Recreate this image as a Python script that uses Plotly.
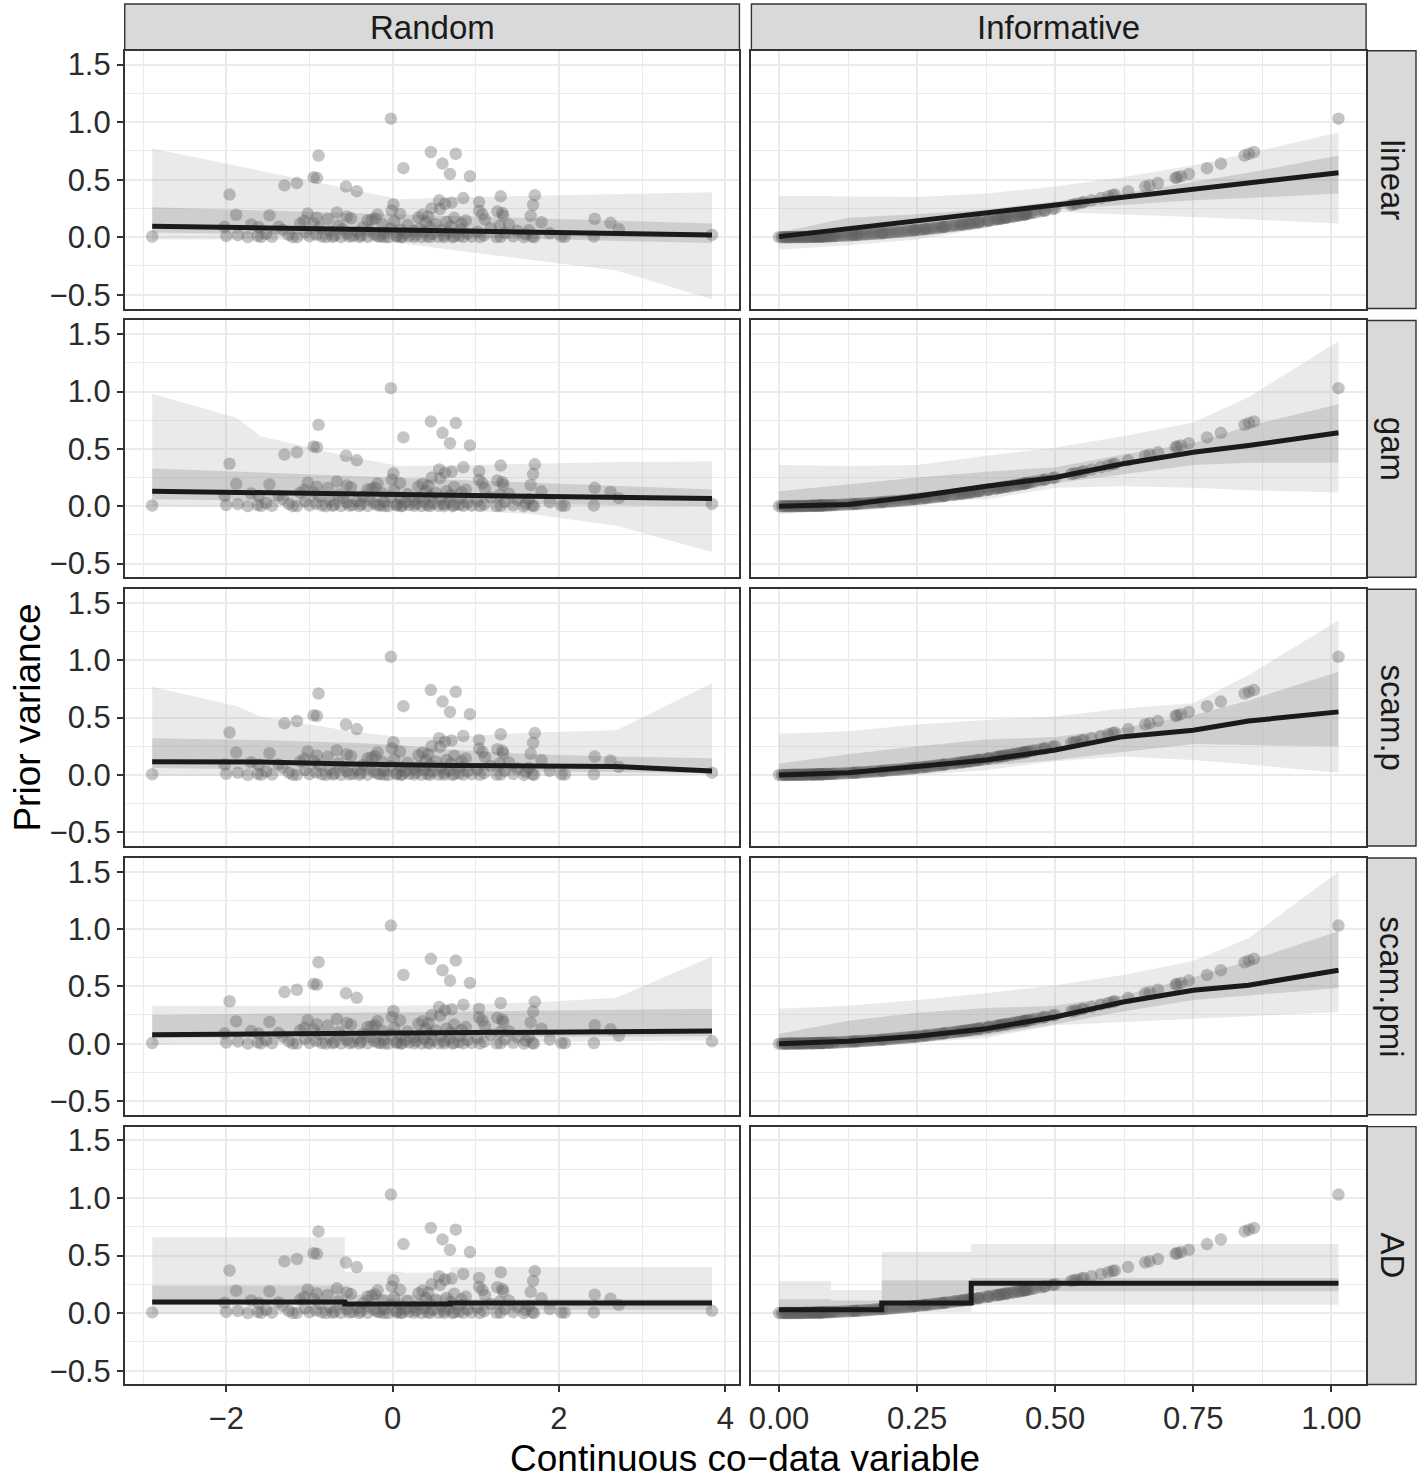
import plotly.graph_objects as go

W, H = 1417, 1484

# ---- data ---------------------------------------------------------------
# prior variance of each feature and its two co-data values
prior_var = [
    1.03, 0.74, 0.725, 0.71, 0.64, 0.60, 0.55, 0.53, 0.52, 0.515,
    0.47, 0.45, 0.44, 0.40, 0.37, 0.365, 0.355, 0.34, 0.32, 0.30,
    0.29, 0.305, 0.285, 0.28, 0.25, 0.245, 0.23, 0.225, 0.21, 0.20,
    0.195, 0.19, 0.205, 0.17, 0.215, 0.18, 0.165, 0.185, 0.16, 0.125,
    0.07, 0.02, 0.155, 0.188, 0.13, 0.158, 0.198, 0.162, 0.145, 0.232,
    0.202, 0.172, 0.196, 0.178, 0.132, 0.168, 0.12, 0.10, 0.06, 0.035,
    0.005, 0.004, 0.006, 0.01, 0.018, 0.11, 0.09, 0.088, 0.092, 0.118,
    0.142, 0.006,
    0.0, 0.0001, 0.0004, 0.0009, 0.0016, 0.002, 0.0025, 0.003, 0.0036, 0.0042,
    0.0049, 0.0056, 0.0064, 0.0072, 0.0081, 0.009, 0.01, 0.011, 0.0121, 0.0132,
    0.0144, 0.0156, 0.0169, 0.0182, 0.0196, 0.021, 0.0225, 0.024, 0.0256, 0.0272,
    0.0289, 0.0306, 0.0324, 0.0342, 0.0361, 0.038, 0.04, 0.042, 0.0441, 0.0462,
    0.0484, 0.0506, 0.0529, 0.0552, 0.0576, 0.06, 0.0625, 0.065, 0.0676, 0.0702,
    0.0729, 0.0756, 0.0784, 0.0812, 0.0841, 0.087, 0.0961, 0.1024, 0.1056, 0.1089,
    0.1122, 0.1156, 0.1225, 0.1296, 0.1369, 0.1444, 0.1521,
    0.00003, 0.00006, 0.00014, 0.0002, 0.0003, 0.0005, 0.0006, 0.0008, 0.001, 0.0012,
    0.0014, 0.0018, 0.0023, 0.0027, 0.0034, 0.0038, 0.0046, 0.0052, 0.0061, 0.0067,
    0.0077, 0.0085,
]

codata_random = [
    -0.02, 0.46, 0.76, -0.89, 0.60, 0.13, 0.69, 0.93, -0.95, -0.91,
    -1.15, -1.30, -0.56, -0.43, -1.96, 1.71, 1.30, 0.85, 0.56, 0.71,
    0.63, 1.04, 0.01, 1.69, 0.47, 0.57, 1.04, 1.26, 1.32, 1.08,
    -1.88, -1.48, -1.02, -0.91, -0.67, -0.55, -0.50, 1.66, 2.43, 2.62,
    2.72, 3.84, 1.11, 1.33, 1.79, -0.78, -0.18, -0.21, -0.30, -0.01,
    0.09, 0.31, 0.36, 0.43, 0.65, 0.74, 0.83, 1.29, 1.64, 1.89,
    2.03, 2.07, 2.42, -2.00, -1.86, -1.70, -2.02, -1.61, -1.37, -1.11,
    -1.06, -2.89,
    -0.05, 0.72, -1.15, 0.35, -0.62, 1.25, -0.30, 0.55, -1.45, 0.12,
    0.95, -0.85, -0.15, 0.42, 1.45, -0.48, 0.20, -1.62, 0.80, -0.70,
    0.05, 1.10, -0.38, 0.62, -1.25, 0.28, -0.92, 1.60, -0.22, 0.48,
    -1.52, 0.90, -0.55, 0.15, 1.35, -0.10, 0.68, -1.05, 0.38, -0.42,
    1.02, -0.75, 0.25, 1.50, -0.28, 0.58, -1.32, 0.10, 0.82, -0.60,
    0.32, -0.02, 1.18, -0.88, 0.45, -0.35, 0.70, -0.65, 0.18, 1.40,
    -0.12, 0.52, -0.95, 0.40, 0.02, 0.88, -0.25,
    -1.74, 1.58, -0.80, 0.10, 1.70, -1.20, 0.62, -0.40, 1.05, -0.10,
    0.45, -1.58, 0.85, -0.72, 0.26, 1.30, -0.52, 0.05, 1.68, -1.00,
    0.74, -0.18,
]

codata_informative = [
    1.013, 0.860, 0.851, 0.843, 0.800, 0.775, 0.742, 0.728, 0.721, 0.718,
    0.686, 0.671, 0.663, 0.632, 0.608, 0.604, 0.596, 0.583, 0.566, 0.548,
    0.539, 0.552, 0.534, 0.529, 0.500, 0.495, 0.480, 0.474, 0.458, 0.447,
    0.442, 0.436, 0.453, 0.412, 0.464, 0.424, 0.406, 0.430, 0.400, 0.354,
    0.265, 0.141, 0.394, 0.434, 0.361, 0.397, 0.445, 0.402, 0.381, 0.482,
    0.449, 0.415, 0.443, 0.422, 0.363, 0.410, 0.346, 0.316, 0.245, 0.187,
    0.071, 0.063, 0.077, 0.100, 0.134, 0.332, 0.300, 0.297, 0.303, 0.344,
    0.377, 0.077,
    0.00, 0.01, 0.02, 0.03, 0.04, 0.045, 0.05, 0.055, 0.06, 0.065,
    0.07, 0.075, 0.08, 0.085, 0.09, 0.095, 0.10, 0.105, 0.11, 0.115,
    0.12, 0.125, 0.13, 0.135, 0.14, 0.145, 0.15, 0.155, 0.16, 0.165,
    0.17, 0.175, 0.18, 0.185, 0.19, 0.195, 0.20, 0.205, 0.21, 0.215,
    0.22, 0.225, 0.23, 0.235, 0.24, 0.245, 0.25, 0.255, 0.26, 0.265,
    0.27, 0.275, 0.28, 0.285, 0.29, 0.295, 0.31, 0.32, 0.325, 0.33,
    0.335, 0.34, 0.35, 0.36, 0.37, 0.38, 0.39,
    0.005, 0.008, 0.012, 0.015, 0.018, 0.022, 0.025, 0.028, 0.032, 0.035,
    0.038, 0.042, 0.048, 0.052, 0.058, 0.062, 0.068, 0.072, 0.078, 0.082,
    0.088, 0.092,
]

assert len(prior_var) == len(codata_random) == len(codata_informative)

methods = ["linear", "gam", "scam.p", "scam.pmi", "AD"]
designs = ["Random", "Informative"]

# positions where the fitted curves and bands were read
knots_random = [-2.89, -1.87, -1.59, -0.5, 0.08, 0.7, 1.69, 2.69, 3.84]
knots_informative = [0, 0.126, 0.25, 0.375, 0.5, 0.623, 0.75, 0.85, 1.013]
knots_ad_random = [-2.89, -0.574, 0.12, 0.693, 3.84]
knots_ad_informative = [0, 0.094, 0.186, 0.348, 1.013]

# Random co-data: fit, inner band, outer band
linear_rnd_fit = [0.096, 0.084, 0.081, 0.069, 0.062, 0.055, 0.044, 0.033, 0.02]
linear_rnd_in_lo = [0.04, 0.03, 0.03, 0.02, 0.01, 0.0, -0.015, -0.03, -0.05]
linear_rnd_in_hi = [0.26, 0.239, 0.233, 0.21, 0.198, 0.185, 0.165, 0.144, 0.12]
linear_rnd_out_lo = [-0.02, -0.02, -0.02, -0.03, -0.05, -0.11, -0.20, -0.29, -0.54]
linear_rnd_out_hi = [0.77, 0.619, 0.578, 0.416, 0.33, 0.345, 0.36, 0.375, 0.39]

gam_rnd_fit = [0.13, 0.12, 0.118, 0.108, 0.102, 0.096, 0.087, 0.078, 0.067]
gam_rnd_in_lo = [0.06, 0.05, 0.05, 0.04, 0.035, 0.03, 0.02, 0.01, 0.0]
gam_rnd_in_hi = [0.33, 0.302, 0.294, 0.264, 0.248, 0.231, 0.204, 0.176, 0.145]
gam_rnd_out_lo = [0.0, 0.0, 0.0, -0.005, -0.01, -0.03, -0.07, -0.17, -0.40]
gam_rnd_out_hi = [0.98, 0.77, 0.61, 0.43, 0.35, 0.36, 0.37, 0.385, 0.39]

scamp_rnd_fit = [0.116, 0.115, 0.113, 0.095, 0.087, 0.082, 0.078, 0.073, 0.035]
scamp_rnd_in_lo = [0.06, 0.05, 0.05, 0.045, 0.04, 0.035, 0.03, 0.025, 0.015]
scamp_rnd_in_hi = [0.32, 0.31, 0.305, 0.28, 0.26, 0.22, 0.18, 0.16, 0.145]
scamp_rnd_out_lo = [-0.01, -0.01, -0.01, -0.01, -0.01, -0.01, -0.01, -0.01, 0.0]
scamp_rnd_out_hi = [0.77, 0.60, 0.51, 0.38, 0.33, 0.33, 0.37, 0.39, 0.80]

scampmi_rnd_fit = [0.078, 0.083, 0.084, 0.089, 0.092, 0.095, 0.10, 0.105, 0.11]
scampmi_rnd_in_lo = [0.05, 0.052, 0.053, 0.055, 0.057, 0.058, 0.06, 0.062, 0.064]
scampmi_rnd_in_hi = [0.25, 0.258, 0.26, 0.27, 0.275, 0.28, 0.29, 0.298, 0.305]
scampmi_rnd_out_lo = [-0.01, -0.005, -0.005, 0.0, 0.005, 0.01, 0.015, 0.02, 0.03]
scampmi_rnd_out_hi = [0.33, 0.33, 0.33, 0.33, 0.33, 0.34, 0.36, 0.40, 0.76]

ad_rnd_fit = [0.096, 0.08, 0.08, 0.087, 0.087]
ad_rnd_in_lo = [0.07, 0.045, 0.045, 0.03, 0.03]
ad_rnd_in_hi = [0.24, 0.16, 0.16, 0.12, 0.12]
ad_rnd_out_lo = [-0.01, -0.01, -0.01, -0.01, -0.01]
ad_rnd_out_hi = [0.66, 0.36, 0.35, 0.40, 0.40]

# Informative co-data: fit, inner band, outer band
linear_inf_fit = [0.005, 0.074, 0.142, 0.21, 0.279, 0.346, 0.416, 0.47, 0.56]
linear_inf_in_lo = [-0.03, 0.0, 0.09, 0.17, 0.24, 0.28, 0.32, 0.34, 0.38]
linear_inf_in_hi = [0.04, 0.17, 0.2, 0.24, 0.31, 0.38, 0.48, 0.56, 0.71]
linear_inf_out_lo = [-0.11, -0.07, -0.02, 0.08, 0.22, 0.20, 0.175, 0.155, 0.12]
linear_inf_out_hi = [0.36, 0.355, 0.35, 0.38, 0.44, 0.52, 0.625, 0.73, 0.91]

gam_inf_fit = [0.0, 0.015, 0.087, 0.174, 0.25, 0.37, 0.47, 0.53, 0.64]
gam_inf_in_lo = [-0.03, 0.0, 0.05, 0.12, 0.2, 0.28, 0.36, 0.38, 0.38]
gam_inf_in_hi = [0.13, 0.19, 0.25, 0.3, 0.34, 0.45, 0.55, 0.7, 0.89]
gam_inf_out_lo = [-0.07, -0.02, 0.04, 0.06, 0.16, 0.175, 0.16, 0.14, 0.12]
gam_inf_out_hi = [0.36, 0.35, 0.36, 0.44, 0.51, 0.61, 0.73, 0.95, 1.44]

scamp_inf_fit = [0.0, 0.02, 0.073, 0.13, 0.218, 0.334, 0.39, 0.47, 0.55]
scamp_inf_in_lo = [-0.02, 0.0, 0.03, 0.08, 0.13, 0.2, 0.27, 0.26, 0.25]
scamp_inf_in_hi = [0.1, 0.18, 0.25, 0.31, 0.33, 0.41, 0.52, 0.65, 0.9]
scamp_inf_out_lo = [-0.04, -0.02, 0.0, 0.04, 0.12, 0.16, 0.13, 0.09, 0.02]
scamp_inf_out_hi = [0.36, 0.38, 0.44, 0.48, 0.51, 0.58, 0.625, 0.87, 1.35]

scampmi_inf_fit = [0.0, 0.02, 0.064, 0.13, 0.233, 0.363, 0.465, 0.51, 0.64]
scampmi_inf_in_lo = [-0.015, 0.0, 0.03, 0.07, 0.17, 0.28, 0.38, 0.42, 0.485]
scampmi_inf_in_hi = [0.087, 0.2, 0.27, 0.31, 0.33, 0.42, 0.58, 0.72, 0.98]
scampmi_inf_out_lo = [-0.015, -0.01, 0.01, 0.05, 0.16, 0.19, 0.22, 0.24, 0.276]
scampmi_inf_out_hi = [0.305, 0.33, 0.38, 0.44, 0.51, 0.6, 0.72, 0.92, 1.5]

ad_inf_fit = [0.03, 0.03, 0.087, 0.26, 0.26]
ad_inf_in_lo = [0.015, 0.015, 0.06, 0.19, 0.19]
ad_inf_in_hi = [0.12, 0.11, 0.285, 0.305, 0.305]
ad_inf_out_lo = [0.005, 0.005, 0.01, 0.073, 0.073]
ad_inf_out_hi = [0.28, 0.20, 0.53, 0.60, 0.60]

# ---- panel table --------------------------------------------------------
random_fits = [
    (knots_random, linear_rnd_fit, linear_rnd_in_lo, linear_rnd_in_hi, linear_rnd_out_lo, linear_rnd_out_hi),
    (knots_random, gam_rnd_fit, gam_rnd_in_lo, gam_rnd_in_hi, gam_rnd_out_lo, gam_rnd_out_hi),
    (knots_random, scamp_rnd_fit, scamp_rnd_in_lo, scamp_rnd_in_hi, scamp_rnd_out_lo, scamp_rnd_out_hi),
    (knots_random, scampmi_rnd_fit, scampmi_rnd_in_lo, scampmi_rnd_in_hi, scampmi_rnd_out_lo, scampmi_rnd_out_hi),
    (knots_ad_random, ad_rnd_fit, ad_rnd_in_lo, ad_rnd_in_hi, ad_rnd_out_lo, ad_rnd_out_hi),
]
informative_fits = [
    (knots_informative, linear_inf_fit, linear_inf_in_lo, linear_inf_in_hi, linear_inf_out_lo, linear_inf_out_hi),
    (knots_informative, gam_inf_fit, gam_inf_in_lo, gam_inf_in_hi, gam_inf_out_lo, gam_inf_out_hi),
    (knots_informative, scamp_inf_fit, scamp_inf_in_lo, scamp_inf_in_hi, scamp_inf_out_lo, scamp_inf_out_hi),
    (knots_informative, scampmi_inf_fit, scampmi_inf_in_lo, scampmi_inf_in_hi, scampmi_inf_out_lo, scampmi_inf_out_hi),
    (knots_ad_informative, ad_inf_fit, ad_inf_in_lo, ad_inf_in_hi, ad_inf_out_lo, ad_inf_out_hi),
]

# ---- styling ------------------------------------------------------------
FONT = "Liberation Sans, Arial, Helvetica, sans-serif"
OUTER_FILL = "rgba(178,180,183,0.28)"
INNER_FILL = "rgba(110,110,110,0.22)"
POINT_COL = "rgba(95,95,95,0.36)"
LINE_COL = "#1a1a1a"
GRID = "#EBEBEB"
BORDER = "#333333"
TICK_SIZE = 31

col_px = [(122, 738), (750, 1366)]
row_px = [(48, 307), (319, 577), (589, 847), (859, 1117), (1129, 1388)]
x_ranges = [[-3.22, 4.17], [-0.05, 1.063]]
y_range = [-0.62, 1.62]

fig = go.Figure()
layout = dict(
    width=W, height=H,
    margin=dict(l=0, r=0, t=0, b=0),
    plot_bgcolor="white", paper_bgcolor="white",
    showlegend=False,
    font=dict(family=FONT, color="#1a1a1a"),
)

shapes = []
annotations = []

for r in range(5):
    for c in range(2):
        k = r * 2 + c + 1
        xname = "x" if k == 1 else f"x{k}"
        yname = "y" if k == 1 else f"y{k}"
        bottom = r == 4
        left = c == 0

        x0, x1 = col_px[c]
        t, b = row_px[r]
        layout["xaxis" if k == 1 else f"xaxis{k}"] = dict(
            domain=[x0 / W, x1 / W], anchor=yname, range=x_ranges[c],
            tickmode="linear", tick0=0, dtick=2 if c == 0 else 0.25,
            tickformat="d" if c == 0 else ".2f",
            showgrid=True, gridcolor=GRID, gridwidth=2.4,
            minor=dict(dtick=1 if c == 0 else 0.125, showgrid=True,
                       gridcolor=GRID, gridwidth=1.2),
            showline=True, linecolor=BORDER, linewidth=1.6, mirror=True,
            zeroline=False,
            ticks="outside" if bottom else "", ticklen=6, tickwidth=1.5, tickcolor=BORDER,
            showticklabels=bottom,
            tickfont=dict(size=TICK_SIZE, color="#2b2b2b", family=FONT),
        )
        layout["yaxis" if k == 1 else f"yaxis{k}"] = dict(
            domain=[1 - b / H, 1 - t / H], anchor=xname, range=y_range,
            tickmode="linear", tick0=0, dtick=0.5, tickformat=".1f",
            showgrid=True, gridcolor=GRID, gridwidth=2.4,
            minor=dict(dtick=0.25, showgrid=True, gridcolor=GRID, gridwidth=1.2),
            showline=True, linecolor=BORDER, linewidth=1.6, mirror=True,
            zeroline=False,
            ticks="outside" if left else "", ticklen=6, tickwidth=1.5, tickcolor=BORDER,
            showticklabels=left,
            tickfont=dict(size=TICK_SIZE, color="#2b2b2b", family=FONT),
        )

        kx, fit, in_lo, in_hi, out_lo, out_hi = (random_fits if c == 0 else informative_fits)[r]
        shape = "hv" if methods[r] == "AD" else "linear"
        px = codata_random if c == 0 else codata_informative

        common = dict(xaxis=xname, yaxis=yname, hoverinfo="skip")
        # outer band
        fig.add_trace(go.Scatter(x=kx, y=out_lo, mode="lines", line=dict(width=0, shape=shape), **common))
        fig.add_trace(go.Scatter(x=kx, y=out_hi, mode="lines", line=dict(width=0, shape=shape),
                                 fill="tonexty", fillcolor=OUTER_FILL, **common))
        # inner band
        fig.add_trace(go.Scatter(x=kx, y=in_lo, mode="lines", line=dict(width=0, shape=shape), **common))
        fig.add_trace(go.Scatter(x=kx, y=in_hi, mode="lines", line=dict(width=0, shape=shape),
                                 fill="tonexty", fillcolor=INNER_FILL, **common))
        # observed prior variances
        fig.add_trace(go.Scatter(x=px, y=prior_var, mode="markers",
                                 marker=dict(size=12.5, color=POINT_COL, line=dict(width=0)), **common))
        # fitted curve
        fig.add_trace(go.Scatter(x=kx, y=fit, mode="lines",
                                 line=dict(color=LINE_COL, width=5, shape=shape), **common))

# top strips
for c in range(2):
    x0, x1 = col_px[c]
    shapes.append(dict(type="rect", xref="paper", yref="paper",
                       x0=x0 / W, x1=x1 / W, y0=1 - 47 / H, y1=1 - 1 / H,
                       fillcolor="#D9D9D9", line=dict(color=BORDER, width=1.4), layer="below"))
    annotations.append(dict(text=designs[c], xref="paper", yref="paper",
                            x=(x0 + x1) / 2 / W, y=1 - 25 / H, xanchor="center", yanchor="middle",
                            showarrow=False,
                            font=dict(size=33, color="#1a1a1a", family=FONT)))

# right strips
for r in range(5):
    t, b = row_px[r]
    shapes.append(dict(type="rect", xref="paper", yref="paper",
                       x0=1367 / W, x1=1416 / W, y0=1 - b / H, y1=1 - t / H,
                       fillcolor="#D9D9D9", line=dict(color=BORDER, width=1.4), layer="below"))
    annotations.append(dict(text=methods[r], xref="paper", yref="paper",
                            x=1392 / W, y=1 - (t + b) / 2 / H, xanchor="center", yanchor="middle",
                            showarrow=False, textangle=90,
                            font=dict(size=33, color="#1a1a1a", family=FONT)))

# axis titles
annotations.append(dict(text="Prior variance", xref="paper", yref="paper",
                        x=25 / W, y=1 - 718 / H, xanchor="center", yanchor="middle",
                        showarrow=False, textangle=-90,
                        font=dict(size=37, color="black", family=FONT)))
annotations.append(dict(text="Continuous co\u2212data variable", xref="paper", yref="paper",
                        x=744 / W, y=1 - 1462 / H, xanchor="center", yanchor="middle",
                        showarrow=False,
                        font=dict(size=37, color="black", family=FONT)))

layout["shapes"] = shapes
layout["annotations"] = annotations
fig.update_layout(**layout)

# the page's default body margin would push the figure off the window
fig.write_html("out.html", config={"displayModeBar": False},
               post_script="document.body.style.margin='0px';")
